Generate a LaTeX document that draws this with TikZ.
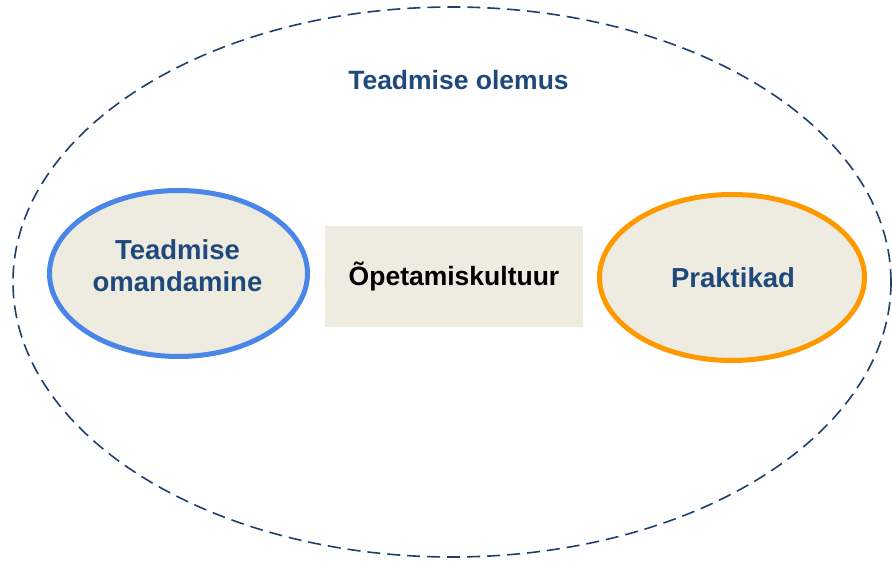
\documentclass[tikz,border=0pt]{standalone}
\usepackage{fontspec}
\setmainfont{Liberation Sans}
\usetikzlibrary{shapes.geometric}
\definecolor{navy}{HTML}{1F497D}
\definecolor{dashnavy}{HTML}{1F3F6E}
\definecolor{acqblue}{HTML}{4A86E8}
\definecolor{praorange}{HTML}{FF9900}
\definecolor{boxfill}{HTML}{EEEBE0}
\tikzset{
  outerell/.style={ellipse, draw=dashnavy, line width=1.6pt, dash pattern=on 13pt off 7pt, inner sep=0pt, minimum width=878pt, minimum height=550pt},
  innerell/.style={ellipse, fill=boxfill, line width=5pt, inner sep=0pt, minimum height=166pt},
  ttl/.style={font=\fontsize{26.5}{32}\selectfont\bfseries, text=navy, inner sep=0pt},
  elltxt/.style={font=\fontsize{27.5}{32}\selectfont\bfseries, text=navy, inner sep=0pt, align=center},
  cultbox/.style={rectangle, fill=boxfill, inner sep=0pt, minimum width=258pt, minimum height=101pt, font=\fontsize{26.5}{32}\selectfont\bfseries, text=black}
}
\begin{document}
\begin{tikzpicture}[x=1pt,y=-1pt]
\useasboundingbox (0,0) rectangle (892,561);
\node[outerell] (outer) at (452,282) {};
\node[ttl, anchor=base] (title) at (458.5,90) {Teadmise olemus};
\node[innerell, draw=acqblue, minimum width=258pt] (acq) at (178.5,273.5) {};
\node[elltxt] (acqt) at (177.5,266) {Teadmise\\omandamine};
\node[innerell, draw=praorange, minimum width=265pt] (pra) at (732,277.5) {};
\node[elltxt] (prat) at (733,277.5) {Praktikad};
\node[cultbox] (cult) at (454,276.5) {Õpetamiskultuur};
\end{tikzpicture}
\end{document}
